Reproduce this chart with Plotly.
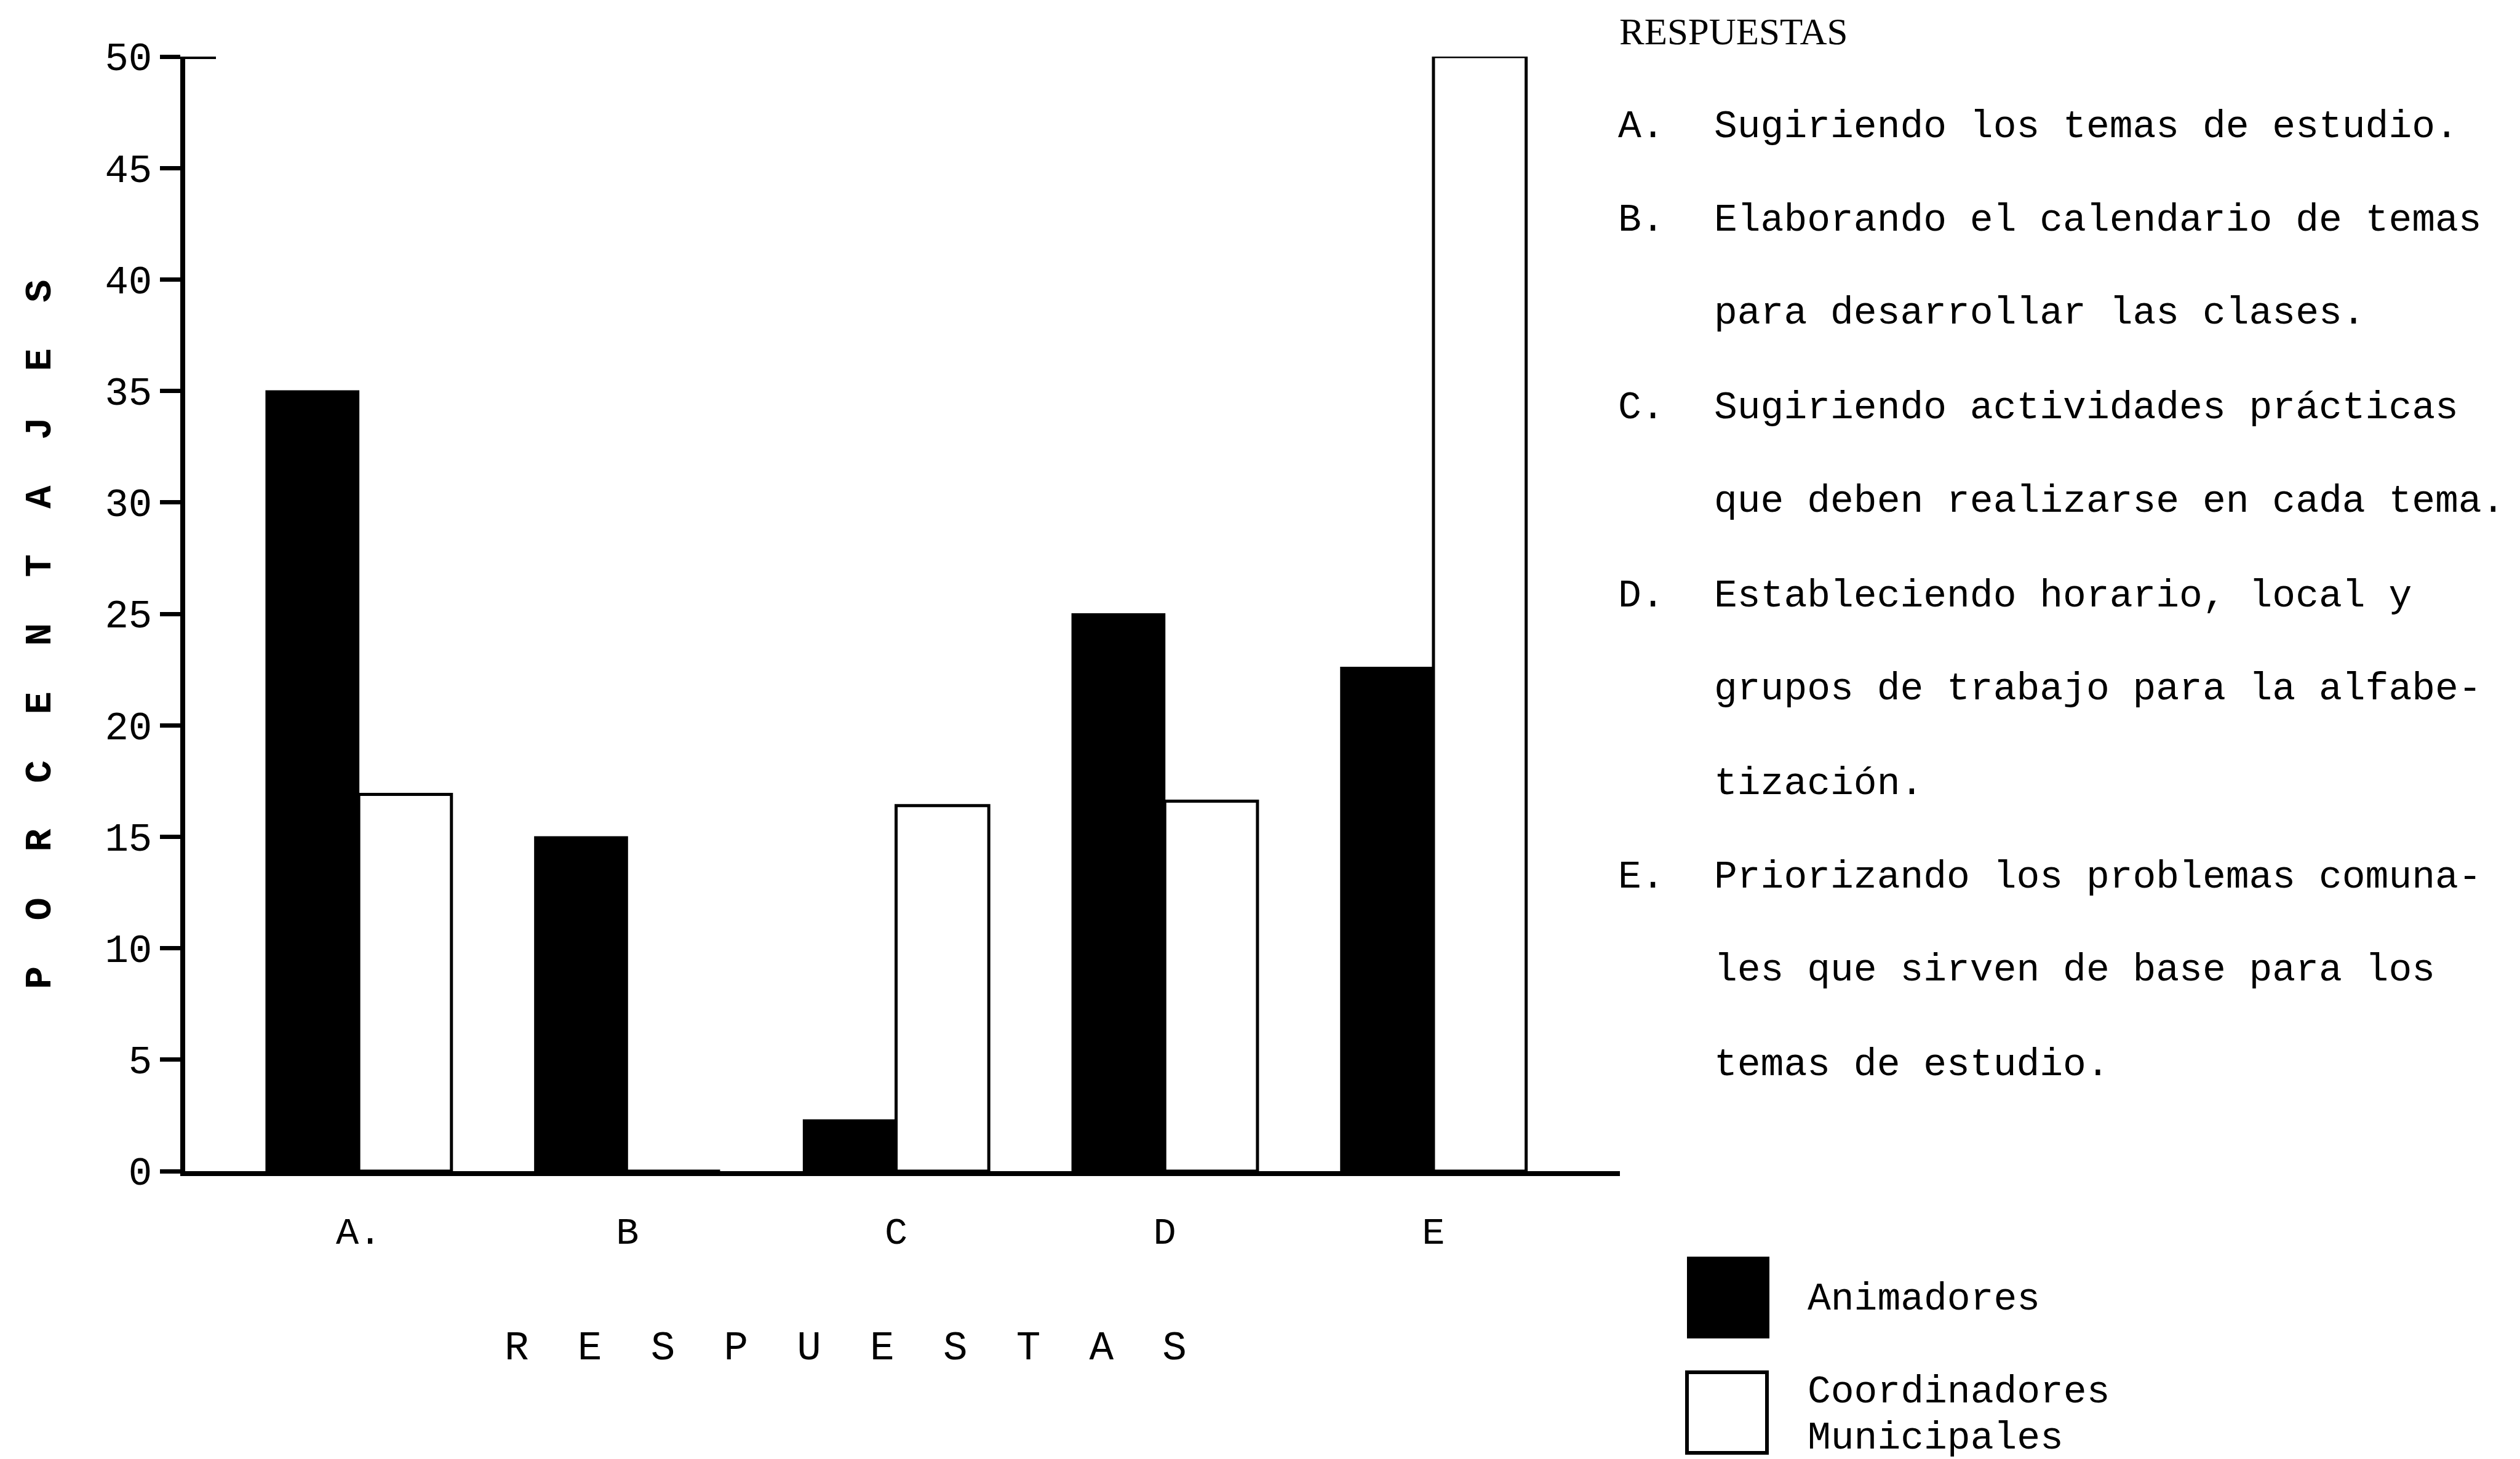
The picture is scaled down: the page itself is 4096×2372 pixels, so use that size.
import plotly.graph_objects as go

# ---------------- data ----------------
categories = ["A", "B", "C", "D", "E"]
tick_labels = ["A.", "B", "C", "D", "E"]
animadores = [35.0, 15.0, 2.3, 25.0, 22.6]
coordinadores = [16.9, 0.0, 16.4, 16.6, 50.0]
y_ticks = [0, 5, 10, 15, 20, 25, 30, 35, 40, 45, 50]

header = "RESPUESTAS"
resp_lines = [
    ("A.", "Sugiriendo los temas de estudio."),
    ("B.", "Elaborando el calendario de temas"),
    ("", "para desarrollar las clases."),
    ("C.", "Sugiriendo actividades prácticas"),
    ("", "que deben realizarse en cada tema."),
    ("D.", "Estableciendo horario, local y"),
    ("", "grupos de trabajo para la alfabe-"),
    ("", "tización."),
    ("E.", "Priorizando los problemas comuna-"),
    ("", "les que sirven de base para los"),
    ("", "temas de estudio."),
]
legend_names = ["Animadores", "Coordinadores", "Municipales"]
x_title = "RESPUESTAS"
y_title = "PORCENTAJES"

# ---------------- layout geometry (output pixels) ----------------
W_PX, H_PX = 4096, 2372
L, R, T, B = 293, 4096 - 2625, 84, 2372 - 1896
PW = W_PX - L - R
PH = H_PX - T - B

MONO = "Liberation Mono"
SERIF = "Liberation Serif"


def px2x(px):
    return (px - L) / PW


def py2y(py):
    return 1 - (py - T) / PH


def spaced(s, n):
    return ("\u00a0" * n).join(list(s))


fig = go.Figure()
fig.add_trace(go.Bar(
    x=categories, y=animadores, name="Animadores",
    marker=dict(color="black", line=dict(color="black", width=2)),
    cliponaxis=False, showlegend=False,
))
fig.add_trace(go.Bar(
    x=categories, y=coordinadores, name="Coordinadores Municipales",
    marker=dict(color="white", line=dict(color="black", width=5)),
    cliponaxis=False, showlegend=False,
))

annotations = []
# Right-hand text block
annotations.append(dict(text=header, x=px2x(2622), y=py2y(44), xref="paper", yref="paper",
                        xanchor="left", yanchor="middle", showarrow=False,
                        font=dict(family=SERIF, size=61, color="black")))
line_y = [76, 134, 192, 251, 309, 368, 426, 485, 543, 601, 660]
for (lab, txt), yy in zip(resp_lines, line_y):
    ypx = yy * 2.612
    if lab:
        annotations.append(dict(text=lab, x=px2x(2620), y=py2y(ypx), xref="paper", yref="paper",
                                xanchor="left", yanchor="middle", showarrow=False,
                                font=dict(family=MONO, size=63, color="black")))
    annotations.append(dict(text=txt, x=px2x(2776), y=py2y(ypx), xref="paper", yref="paper",
                            xanchor="left", yanchor="middle", showarrow=False,
                            font=dict(family=MONO, size=63, color="black")))

# Legend text
for name, ypx in zip(legend_names, [2104, 2255, 2330]):
    annotations.append(dict(text=name, x=px2x(2928), y=py2y(ypx), xref="paper", yref="paper",
                            xanchor="left", yanchor="middle", showarrow=False,
                            font=dict(family=MONO, size=63, color="black")))

# Axis titles
annotations.append(dict(text=spaced(x_title, 2), x=px2x(1366), y=py2y(2184), xref="paper", yref="paper",
                        xanchor="center", yanchor="middle", showarrow=False,
                        font=dict(family=MONO, size=66, color="black")))
annotations.append(dict(text=spaced(y_title, 2), x=px2x(57), y=py2y(1024), xref="paper", yref="paper",
                        xanchor="center", yanchor="middle", showarrow=False, textangle=-90,
                        font=dict(family=MONO, size=62, color="black", weight="bold")))

shapes = [
    # crossbar at top of y axis
    dict(type="line", xref="paper", yref="y", x0=0, x1=50 / PW, y0=50, y1=50,
         line=dict(color="black", width=8)),
    # legend swatches
    dict(type="rect", xref="paper", yref="paper",
         x0=px2x(2736), x1=px2x(2866), y0=py2y(2166), y1=py2y(2037),
         fillcolor="black", line=dict(color="black", width=4)),
    dict(type="rect", xref="paper", yref="paper",
         x0=px2x(2734), x1=px2x(2864), y0=py2y(2354), y1=py2y(2223),
         fillcolor="white", line=dict(color="black", width=6)),
]

fig.update_layout(
    width=W_PX, height=H_PX,
    margin=dict(l=L, r=R, t=T, b=B, pad=0),
    paper_bgcolor="white", plot_bgcolor="white",
    barmode="group", bargap=0.31, bargroupgap=0.0,
    annotations=annotations, shapes=shapes,
    showlegend=False,
)
fig.update_xaxes(
    range=[-0.646, 4.694], showline=True, linecolor="black", linewidth=8,
    showgrid=False, zeroline=False, ticks="",
    tickmode="array", tickvals=categories, ticktext=tick_labels,
    tickfont=dict(family=MONO, size=62, color="black"),
    ticklabelstandoff=36,
)
fig.update_yaxes(
    range=[0, 50], showline=True, linecolor="black", linewidth=8,
    showgrid=False, zeroline=False,
    ticks="outside", ticklen=33, tickwidth=7, tickcolor="black",
    tickmode="array", tickvals=y_ticks,
    tickfont=dict(family=MONO, size=64, color="black"),
)

fig.write_html("out.html")
